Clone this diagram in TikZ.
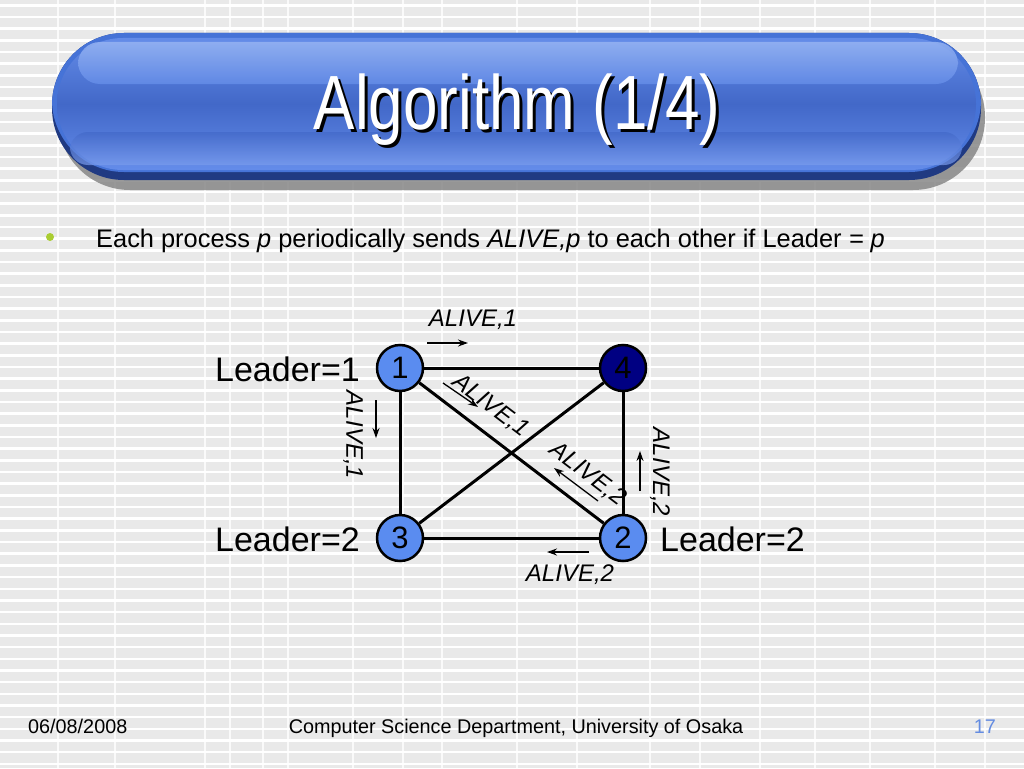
\documentclass[tikz,border=0pt]{standalone}
\usepackage{fontspec}
\setmainfont{Liberation Sans}
\usetikzlibrary{arrows.meta,calc}
\definecolor{bggray}{RGB}{233,233,233}
\definecolor{procblue}{RGB}{90,140,240}
\definecolor{leadblue}{RGB}{0,0,130}
\definecolor{bulletgreen}{RGB}{170,205,50}
\definecolor{numblue}{RGB}{100,140,225}
\definecolor{barEdge}{RGB}{32,58,130}
\definecolor{barRim}{RGB}{70,115,215}
\definecolor{barTop}{RGB}{100,140,232}
\definecolor{barMid}{RGB}{66,104,200}
\definecolor{barBot}{RGB}{100,140,234}
\definecolor{gloss}{RGB}{150,180,242}
\tikzset{
  proc/.style={circle,draw=black,line width=2.5pt,fill=procblue,minimum size=46pt,inner sep=0pt,font=\fontsize{31}{31}\selectfont},
  leader/.style={proc,fill=leadblue},
  link/.style={line width=3pt,black},
  msg/.style={font=\fontsize{24}{24}\selectfont\itshape,inner sep=0pt},
  lbl/.style={font=\fontsize{34}{34}\selectfont,inner sep=0pt},
  msgarrow/.style={line width=1.3pt,-{Stealth[length=10pt,width=7pt]}},
  foot/.style={font=\fontsize{19.8}{19.8}\selectfont,inner sep=0pt}
}
\begin{document}
\begin{tikzpicture}[x=1pt,y=-1pt]
\useasboundingbox (0,0) rectangle (1024,768);
% background
\fill[bggray] (0,0) rectangle (1024,768);
\foreach \i in {0,...,66} {
  \fill[white] (0,{\i*11.67+4}) rectangle (1024,{\i*11.67+6.6});
}
\foreach \x in {58,115,205,230,263,288,353,403,442,517,577,650,700,760,815,870,935,985} {
  \draw[white,opacity=0.8,line width=1.5pt] (\x,0) -- (\x,768);
}
% title bar
\fill[black!50,opacity=0.8,rounded corners=72pt] (58,45) rectangle (985,190);
\fill[barEdge,rounded corners=72pt] (52,33) rectangle (981,180);
\fill[barRim,rounded corners=72pt] (52,33) rectangle (981,172);
\shade[top color=barTop,bottom color=barBot,middle color=barMid,rounded corners=66pt] (57,38) rectangle (976,170);
\shade[top color=gloss,bottom color=barTop,rounded corners=22pt,opacity=0.85] (78,42) rectangle (958,84);
\shade[top color=barMid,bottom color=barBot!85!white,rounded corners=18pt,opacity=0.7] (70,132) rectangle (962,165);
\node[text=black,font=\fontsize{62}{62}\selectfont,yscale=1.24] (titleshadow) at (520,113) {Algorithm (1/4)};
\node[text=white,font=\fontsize{62}{62}\selectfont,yscale=1.24] (title) at (517,110) {Algorithm (1/4)};
% bullet
\fill[bulletgreen] (50,237) circle (4pt);
\node[anchor=base west,inner sep=0pt,font=\fontsize{25.4}{25.4}\selectfont] (bullet) at (96,247) {Each process \textit{p} periodically sends \textit{ALIVE,p} to each other if Leader \textit{= p}};
% graph
\node[proc] (n1) at (400,368) {1};
\node[leader] (n4) at (623,368) {4};
\node[proc] (n3) at (400,538) {3};
\node[proc] (n2) at (623,538) {2};
\draw[link] (n1) -- (n4);
\draw[link] (n1) -- (n3);
\draw[link] (n3) -- (n2);
\draw[link] (n4) -- (n2);
\draw[link] (n1) -- (n2);
\draw[link] (n3) -- (n4);
% leader labels
\node[lbl,anchor=base east] (l1) at (360,381) {Leader=1};
\node[lbl,anchor=base east] (l3) at (360,551) {Leader=2};
\node[lbl,anchor=base west] (l2) at (660,551) {Leader=2};
% message labels
\node[msg] (m14) at (473,320) {ALIVE,1};
\node[msg] (m32) at (570,575) {ALIVE,2};
\node[msg,rotate=-90] (m13) at (353,435) {ALIVE,1};
\node[msg,rotate=-90] (m42) at (660,472) {ALIVE,2};
\node[msg,rotate=-37.3] (m12) at (491,406) {ALIVE,1};
\node[msg,rotate=-37.3] (m21) at (588,474) {ALIVE,2};
% message arrows
\coordinate (a14s) at (427,343); \coordinate (a14e) at (468,343);
\coordinate (a32s) at (589,552); \coordinate (a32e) at (547,552);
\coordinate (a13s) at (376,400); \coordinate (a13e) at (376,438);
\coordinate (a42s) at (640,491); \coordinate (a42e) at (640,451);
\coordinate (a12s) at (443,383); \coordinate (a12e) at (478,407);
\coordinate (a21s) at (598,501); \coordinate (a21e) at (554,468);
\draw[msgarrow] (a14s) -- (a14e);
\draw[msgarrow] (a32s) -- (a32e);
\draw[msgarrow] (a13s) -- (a13e);
\draw[msgarrow] (a42s) -- (a42e);
\draw[msgarrow] (a12s) -- (a12e);
\draw[msgarrow] (a21s) -- (a21e);
% footer
\node[foot,anchor=base west] (date) at (28,733) {06/08/2008};
\node[foot,anchor=base] (dept) at (516,733) {Computer Science Department, University of Osaka};
\node[foot,anchor=base east,text=numblue] (page) at (996,733) {17};
\end{tikzpicture}
\end{document}
